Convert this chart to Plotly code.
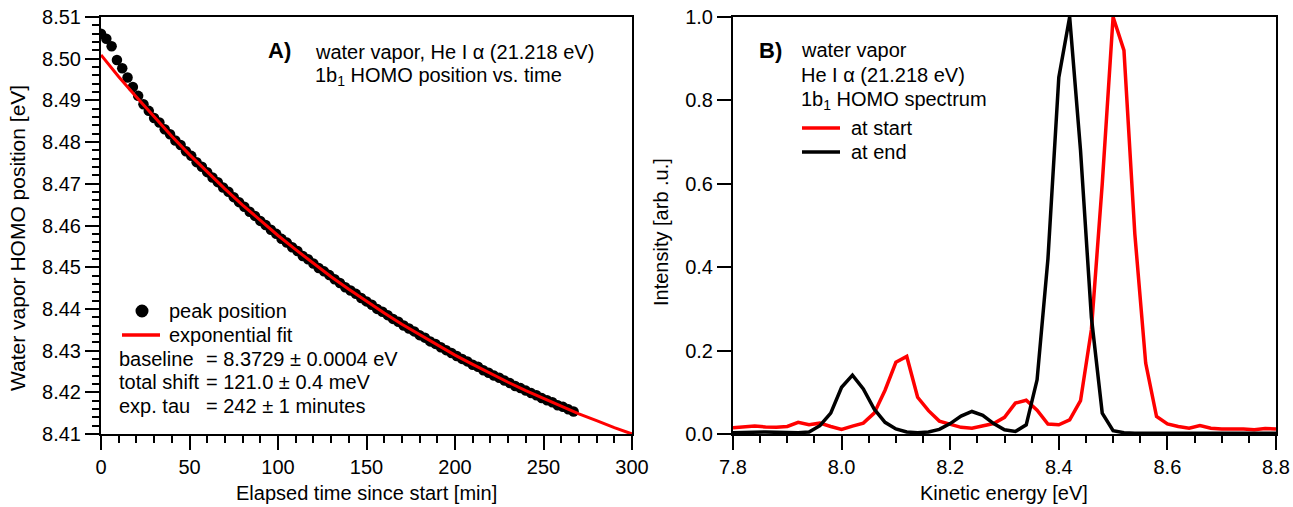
import plotly.graph_objects as go

W, H = 1293, 507

# ---------------- Panel A data ----------------
time_min = [0, 3, 6, 9, 12, 15, 18, 21, 24, 27, 30, 33, 36, 39, 42, 45, 48, 51, 54, 57,
            60, 63, 66, 69, 72, 75, 78, 81, 84, 87, 90, 93, 96, 99, 102, 105, 108, 111, 114, 117,
            120, 123, 126, 129, 132, 135, 138, 141, 144, 147, 150, 153, 156, 159, 162, 165, 168, 171, 174, 177,
            180, 183, 186, 189, 192, 195, 198, 201, 204, 207, 210, 213, 216, 219, 222, 225, 228, 231, 234, 237,
            240, 243, 246, 249, 252, 255, 258, 261, 264, 267]
peak_pos = [8.5060, 8.5048, 8.5030, 8.4997, 8.4977, 8.4955, 8.4932, 8.4911, 8.4891, 8.4875,
            8.4858, 8.4847, 8.4831, 8.4819, 8.4804, 8.4793, 8.4778, 8.4767, 8.4752, 8.4741,
            8.4728, 8.4715, 8.4704, 8.4691, 8.4681, 8.4668, 8.4656, 8.4645, 8.4633, 8.4623,
            8.4611, 8.4601, 8.4590, 8.4580, 8.4568, 8.4559, 8.4548, 8.4539, 8.4527, 8.4519,
            8.4509, 8.4498, 8.4490, 8.4481, 8.4471, 8.4462, 8.4452, 8.4444, 8.4436, 8.4426,
            8.4418, 8.4410, 8.4400, 8.4393, 8.4385, 8.4376, 8.4369, 8.4360, 8.4353, 8.4346,
            8.4337, 8.4331, 8.4322, 8.4316, 8.4308, 8.4301, 8.4294, 8.4287, 8.4280, 8.4274,
            8.4266, 8.4261, 8.4253, 8.4247, 8.4240, 8.4235, 8.4228, 8.4222, 8.4215, 8.4210,
            8.4204, 8.4198, 8.4193, 8.4186, 8.4181, 8.4176, 8.4169, 8.4165, 8.4159, 8.4154]

fit_time = [0, 10, 20, 30, 40, 50, 60, 70, 80, 90, 100, 110, 120, 130, 140, 150,
            160, 170, 180, 190, 200, 210, 220, 230, 240, 250, 260, 270, 280, 290, 300]
fit_pos = [8.5009, 8.4957, 8.4908, 8.4860, 8.4814, 8.4770, 8.4728, 8.4688, 8.4649, 8.4612,
           8.4576, 8.4542, 8.4509, 8.4477, 8.4447, 8.4418, 8.4390, 8.4363, 8.4338, 8.4313,
           8.4289, 8.4267, 8.4245, 8.4224, 8.4204, 8.4185, 8.4166, 8.4148, 8.4132, 8.4115, 8.4100]

# ---------------- Panel B data ----------------
energy_eV = [7.80, 7.82, 7.84, 7.86, 7.88, 7.90, 7.92, 7.94, 7.96, 7.98,
             8.00, 8.02, 8.04, 8.06, 8.08, 8.10, 8.12, 8.14, 8.16, 8.18,
             8.20, 8.22, 8.24, 8.26, 8.28, 8.30, 8.32, 8.34, 8.36, 8.38,
             8.40, 8.42, 8.44, 8.46, 8.48, 8.50, 8.52, 8.54, 8.56, 8.58,
             8.60, 8.62, 8.64, 8.66, 8.68, 8.70, 8.72, 8.74, 8.76, 8.78, 8.80]
intensity_start = [0.015, 0.016, 0.019, 0.017, 0.016, 0.018, 0.028, 0.022, 0.026, 0.018,
                   0.011, 0.019, 0.026, 0.050, 0.105, 0.172, 0.186, 0.088, 0.056, 0.031,
                   0.024, 0.016, 0.014, 0.020, 0.025, 0.040, 0.074, 0.081, 0.057, 0.024,
                   0.022, 0.034, 0.080, 0.250, 0.600, 1.000, 0.920, 0.480, 0.170, 0.042,
                   0.024, 0.018, 0.014, 0.020, 0.014, 0.012, 0.013, 0.012, 0.010, 0.013, 0.012]
intensity_end = [0.003, 0.004, 0.005, 0.005, 0.004, 0.003, 0.003, 0.005, 0.020, 0.050,
                 0.112, 0.141, 0.108, 0.060, 0.028, 0.012, 0.005, 0.003, 0.005, 0.011,
                 0.025, 0.043, 0.054, 0.045, 0.025, 0.010, 0.006, 0.022, 0.130, 0.420,
                 0.855, 1.000, 0.680, 0.280, 0.050, 0.008, 0.003, 0.002, 0.002, 0.002,
                 0.002, 0.002, 0.002, 0.002, 0.002, 0.002, 0.002, 0.002, 0.002, 0.002, 0.002]

FONT = "Arial, Liberation Sans, sans-serif"
FS = 20
RED = "#ff0000"


def px(x):
    return x / W


def py(y):
    return 1 - y / H


fig = go.Figure()

fig.add_trace(go.Scatter(x=time_min, y=peak_pos, mode="markers",
                         marker=dict(color="black", size=10.5, line=dict(width=0)),
                         xaxis="x", yaxis="y", showlegend=False))
fig.add_trace(go.Scatter(x=fit_time, y=fit_pos, mode="lines",
                         line=dict(color=RED, width=3), xaxis="x", yaxis="y", showlegend=False))

fig.add_trace(go.Scatter(x=energy_eV, y=intensity_start, mode="lines",
                         line=dict(color=RED, width=3.5), xaxis="x2", yaxis="y2", showlegend=False))
fig.add_trace(go.Scatter(x=energy_eV, y=intensity_end, mode="lines",
                         line=dict(color="black", width=3.5), xaxis="x2", yaxis="y2", showlegend=False))

axis_common = dict(showgrid=False, zeroline=False, showline=True, linecolor="black", linewidth=2,
                   mirror=True, ticks="outside", ticklen=14, tickwidth=2, tickcolor="black",
                   automargin=False,
                   tickfont=dict(family=FONT, size=FS, color="black"))

ydom = [py(434), py(17)]

fig.update_layout(
    template="none",
    width=W, height=H, autosize=False,
    margin=dict(l=0, r=0, t=0, b=0),
    paper_bgcolor="white", plot_bgcolor="white",
    xaxis=dict(domain=[px(101), px(632)], range=[0, 300], tick0=0, dtick=50, anchor="y",
               minor=dict(dtick=10, ticklen=7, tickwidth=2, tickcolor="black", ticks="outside", showgrid=False),
               **axis_common),
    yaxis=dict(domain=ydom, range=[8.40999, 8.51001], tick0=8.41, dtick=0.01, tickformat=".2f", anchor="x",
               minor=dict(dtick=0.002, ticklen=7, tickwidth=2, tickcolor="black", ticks="outside", showgrid=False),
               **axis_common),
    xaxis2=dict(domain=[px(733), px(1276)], range=[7.8, 8.8], tick0=7.8, dtick=0.2, tickformat=".1f", anchor="y2",
                minor=dict(dtick=0.05, ticklen=7, tickwidth=2, tickcolor="black", ticks="outside", showgrid=False),
                **axis_common),
    yaxis2=dict(domain=ydom, range=[0, 1.0], tick0=0, dtick=0.2, tickformat=".1f", anchor="x2",
                **axis_common),
)

ann = []


def text(x, y, s, size=FS, bold=False, xanchor="left", angle=0):
    ann.append(dict(x=px(x), y=py(y), xref="paper", yref="paper", text=("<b>%s</b>" % s) if bold else s,
                    showarrow=False, xanchor=xanchor, yanchor="middle", textangle=angle,
                    font=dict(family=FONT, size=size, color="black")))


# axis titles
text(366, 493, "Elapsed time since start [min]", xanchor="center")
text(1004, 493, "Kinetic energy [eV]", xanchor="center")
text(18, 238, "Water vapor HOMO position [eV]", size=21, xanchor="center", angle=-90)
text(661, 232, "Intensity [arb .u.]", xanchor="center", angle=-90)

# panel A texts
text(279, 51, "A)", size=22, bold=True, xanchor="center")
text(313, 52, "water vapor, He I α (21.218 eV)")
text(313, 76, "1b<sub>1</sub> HOMO position vs. time")
text(167, 311, "peak position")
text(167, 335, "exponential fit")
text(117, 359, "baseline")
text(117, 382, "total shift")
text(117, 406, "exp. tau")
text(204, 359, "= 8.3729 ± 0.0004 eV")
text(204, 382, "= 121.0 ± 0.4 meV")
text(204, 406, "= 242 ± 1 minutes")

# panel B texts
text(770, 50, "B)", size=22, bold=True, xanchor="center")
text(799, 50, "water vapor")
text(799, 75, "He I α (21.218 eV)")
text(799, 100, "1b<sub>1</sub> HOMO spectrum")
text(849, 128, "at start")
text(849, 152, "at end")

shapes = [
    dict(type="circle", xref="paper", yref="paper", x0=px(135.5), x1=px(148.5), y0=py(304.5), y1=py(317.5),
         fillcolor="black", line=dict(width=0)),
    dict(type="line", xref="paper", yref="paper", x0=px(122), x1=px(160), y0=py(335), y1=py(335),
         line=dict(color=RED, width=3.5)),
    dict(type="line", xref="paper", yref="paper", x0=px(802), x1=px(840), y0=py(128), y1=py(128),
         line=dict(color=RED, width=3.5)),
    dict(type="line", xref="paper", yref="paper", x0=px(802), x1=px(840), y0=py(152), y1=py(152),
         line=dict(color="black", width=3.5)),
]

fig.update_layout(annotations=ann, shapes=shapes)

fig.write_html("out.html")
